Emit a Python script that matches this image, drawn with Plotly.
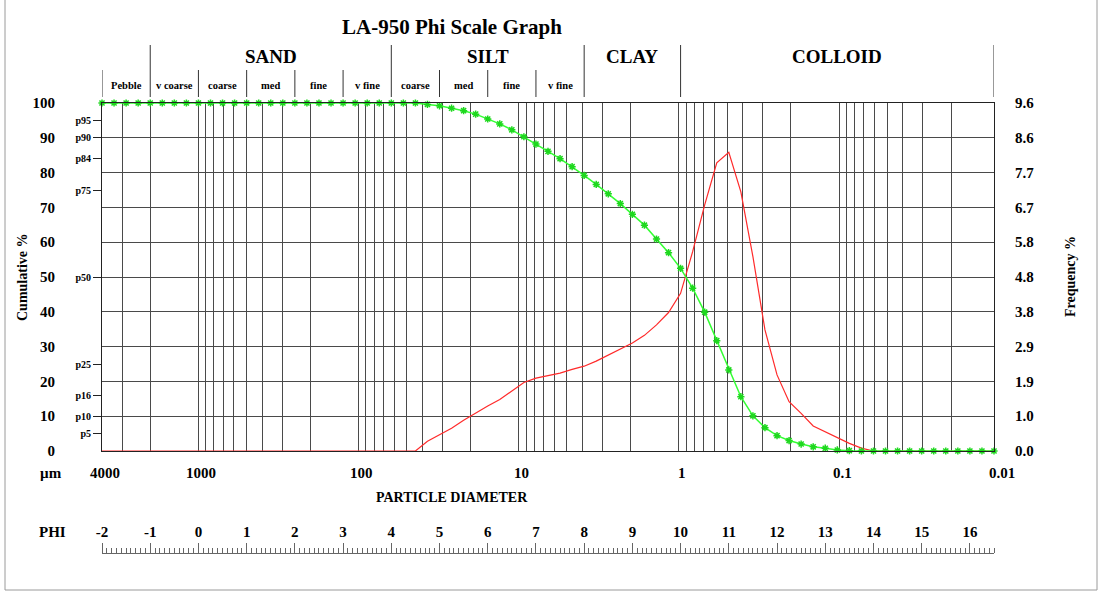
import numpy as np
import plotly.graph_objects as go

# Size channels in phi units
phi = [-2.0, -1.75, -1.5, -1.25, -1.0, -0.75, -0.5, -0.25,
       0.0, 0.25, 0.5, 0.75, 1.0, 1.25, 1.5, 1.75,
       2.0, 2.25, 2.5, 2.75, 3.0, 3.25, 3.5, 3.75,
       4.0, 4.25, 4.5, 4.75, 5.0, 5.25, 5.5, 5.75,
       6.0, 6.25, 6.5, 6.75, 7.0, 7.25, 7.5, 7.75,
       8.0, 8.25, 8.5, 8.75, 9.0, 9.25, 9.5, 9.75,
       10.0, 10.25, 10.5, 10.75, 11.0, 11.25, 11.5, 11.75,
       12.0, 12.25, 12.5, 12.75, 13.0, 13.25, 13.5, 13.75,
       14.0, 14.25, 14.5, 14.75, 15.0, 15.25, 15.5, 15.75,
       16.0, 16.25, 16.5]

# Cumulative % finer than each channel
cumulative = [100, 100, 100, 100, 100, 100, 100, 100,
              100, 100, 100, 100, 100, 100, 100, 100,
              100, 100, 100, 100, 100, 100, 100, 100,
              100, 100, 100, 99.6, 99.2, 98.5, 97.8, 96.8,
              95.4, 94.0, 92.3, 90.3, 88.2, 86.1, 84.0, 81.7,
              79.2, 76.6, 73.9, 71.1, 68.0, 64.9, 60.9, 57.0,
              52.5, 46.8, 39.9, 31.7, 23.3, 15.6, 10.1, 6.7,
              4.4, 3.0, 2.0, 1.2, 0.8, 0.3, 0.1, 0.0,
              0, 0, 0, 0, 0, 0, 0, 0,
              0, 0, 0]

# Frequency % in each channel
frequency = [0, 0, 0, 0, 0, 0, 0, 0,
             0, 0, 0, 0, 0, 0, 0, 0,
             0, 0, 0, 0, 0, 0, 0, 0,
             0, 0, 0, 0.27, 0.44, 0.63, 0.85, 1.05,
             1.24, 1.42, 1.66, 1.89, 2.01, 2.08, 2.15, 2.25,
             2.34, 2.48, 2.65, 2.80, 2.98, 3.19, 3.48, 3.82,
             4.35, 5.50, 6.79, 7.95, 8.24, 7.15, 5.36, 3.34,
             2.10, 1.36, 1.04, 0.69, 0.53, 0.35, 0.21, 0.08,
             0, 0, 0, 0, 0, 0, 0, 0,
             0, 0, 0]

# Axis labels
cum_ticks = [0, 10, 20, 30, 40, 50, 60, 70, 80, 90, 100]
pct_ticks = [5, 10, 16, 25, 50, 75, 84, 90, 95]
freq_max = 9.6
um_labels = [4000, 1000, 100, 10, 1, 0.1, 0.01]
phi_labels = list(range(-2, 17))

# Wentworth classes (phi boundaries)
class_names = ["SAND", "SILT", "CLAY", "COLLOID"]
class_bounds = [-1, 4, 8, 10, 16.5]
sub_names = ["Pebble", "v coarse", "coarse", "med", "fine", "v fine",
             "coarse", "med", "fine", "v fine"]
sub_bounds = [-2, -1, 0, 1, 2, 3, 4, 5, 6, 7, 8]

diam = [1000.0 * 2 ** (-p) for p in phi]
phi_min, phi_max = -2.0, 16.5
d_left, d_right = 1000.0 * 2 ** (-phi_min), 1000.0 * 2 ** (-phi_max)
log_range = [np.log10(d_left), np.log10(d_right)]

# page geometry (pixels)
W, H = 1099, 592
L, R, T, B = 102, 994, 103, 555
PLOT_BOTTOM = 451


def px_x(px):
    return (px - L) / (R - L)


def px_y(py):
    return (B - py) / (B - T)


def um_to_paper(v):
    # position of a diameter along the log axis, as a paper fraction
    return (np.log10(v) - log_range[0]) / (log_range[1] - log_range[0])


FONT = "Liberation Serif"
GRID = "#4a4a4a"
FRAME = "#222222"

# log-scale grid values: 1..9 x 10^n
grid_vals = [k * 10.0 ** n for n in range(-2, 4) for k in range(1, 10)
             if d_right <= k * 10.0 ** n <= d_left]

fig = go.Figure()

# base subplot placeholder
fig.add_trace(go.Scatter(x=[None], y=[None], xaxis="x", yaxis="y",
                         showlegend=False, hoverinfo="skip"))
# phi ruler placeholder
fig.add_trace(go.Scatter(x=[None], y=[None], xaxis="x2", yaxis="y",
                         showlegend=False, hoverinfo="skip"))

# frequency curve
fig.add_trace(go.Scatter(
    x=diam, y=frequency, xaxis="x", yaxis="y2", mode="lines",
    line=dict(color="#ff2a2a", width=1.2), showlegend=False,
    cliponaxis=False, name="Frequency %"))

# cumulative curve
fig.add_trace(go.Scatter(
    x=diam, y=cumulative, xaxis="x", yaxis="y3", mode="lines+markers",
    line=dict(color="#33ff33", width=1.5),
    marker=dict(symbol="asterisk-open", size=6,
                line=dict(color="#1ed81e", width=1.5), color="#1ed81e"),
    showlegend=False, cliponaxis=False, name="Cumulative %"))

ydom = [px_y(PLOT_BOTTOM), 1.0]

fig.update_layout(
    width=W, height=H,
    margin=dict(l=L, r=W - R, t=T, b=H - B, pad=0),
    paper_bgcolor="white", plot_bgcolor="white",
    font=dict(family=FONT, color="black", size=15),
    xaxis=dict(
        type="log", range=log_range,
        domain=[0, 1], anchor="y",
        tickvals=grid_vals, showticklabels=False, ticks="",
        showgrid=True, gridcolor=GRID, gridwidth=1,
        showline=True, linecolor=FRAME, linewidth=1, mirror=True,
        zeroline=False,
    ),
    xaxis2=dict(
        overlaying="x", anchor="free", position=px_y(553), side="top",
        range=[phi_min, phi_max],
        tickvals=phi_labels, ticktext=[str(v) for v in phi_labels],
        ticks="outside", ticklen=10, tickwidth=1, tickcolor="#666666",
        minor=dict(dtick=0.1, tick0=-2, ticks="outside", ticklen=5,
                   tickwidth=1, tickcolor="#666666"),
        tickfont=dict(size=15, weight="bold"),
        showgrid=False, zeroline=False,
        showline=True, linecolor="#666666", linewidth=1,
    ),
    yaxis=dict(
        domain=ydom, range=[0, 100], anchor="x",
        tickvals=cum_ticks, ticktext=[str(v) for v in cum_ticks],
        ticks="", ticklabelstandoff=43,
        tickfont=dict(size=15, weight="bold"),
        showgrid=True, gridcolor=GRID, gridwidth=1,
        showline=True, linecolor=FRAME, linewidth=1, mirror=True,
        zeroline=False,
    ),
    yaxis2=dict(
        overlaying="y", side="right", anchor="x", range=[0, freq_max],
        tickvals=[freq_max * v / 100 for v in cum_ticks],
        ticktext=["%.1f" % (freq_max * v / 100) for v in cum_ticks],
        ticks="", ticklabelstandoff=20,
        tickfont=dict(size=15, weight="bold"),
        showgrid=False, zeroline=False, showline=False,
    ),
    yaxis3=dict(
        overlaying="y", side="left", anchor="x", range=[0, 100],
        tickvals=pct_ticks, ticktext=["p%d" % v for v in pct_ticks],
        ticks="outside", ticklen=8, tickcolor=FRAME, tickwidth=1,
        tickfont=dict(size=10, weight="bold"),
        showgrid=False, zeroline=False, showline=False,
    ),
)

annotations = []
shapes = []


def text(x, y, s, size, xref="paper", yref="paper", **kw):
    annotations.append(dict(x=x, y=y, xref=xref, yref=yref, text=s,
                            showarrow=False, xanchor="center",
                            yanchor="middle",
                            font=dict(family=FONT, size=size, color="black",
                                      weight="bold"), **kw))


# title
text(px_x(452), px_y(27), "LA-950 Phi Scale Graph", 21)

# Wentworth class header
for i, name in enumerate(class_names):
    mid = (class_bounds[i] + class_bounds[i + 1]) / 2
    text(mid, px_y(57), name, 19, xref="x2")
for b in class_bounds:
    shapes.append(dict(type="line", xref="x2", yref="paper", x0=b, x1=b,
                       y0=px_y(45), y1=px_y(97),
                       line=dict(color="#333333", width=1)))
for i, name in enumerate(sub_names):
    mid = (sub_bounds[i] + sub_bounds[i + 1]) / 2
    text(mid, px_y(85), name, 10.5, xref="x2")
for b in sub_bounds:
    if b in class_bounds:
        continue
    shapes.append(dict(type="line", xref="x2", yref="paper", x0=b, x1=b,
                       y0=px_y(70), y1=px_y(97),
                       line=dict(color="#333333", width=1)))

# particle diameter labels
text(px_x(51), px_y(473), "µm", 15)
for v in um_labels:
    text(um_to_paper(v), px_y(473), str(v), 15, xshift=3)
text(px_x(452), px_y(497), "PARTICLE DIAMETER", 14)
text(px_x(52), px_y(532), "PHI", 15)

# axis titles
text(px_x(22), px_y(277), "Cumulative %", 14, textangle=-90)
text(px_x(1070), px_y(277), "Frequency %", 14, textangle=-90)

# page border
for (x0, y0, x1, y1) in [(5, -2, 5, 590), (5, 590, 1097, 590),
                         (1097, -2, 1097, 590)]:
    shapes.append(dict(type="line", xref="paper", yref="paper",
                       x0=px_x(x0), x1=px_x(x1), y0=px_y(y0), y1=px_y(y1),
                       line=dict(color="#9a9a9a", width=1)))

fig.update_layout(annotations=annotations, shapes=shapes)

fig.write_html("out.html")
